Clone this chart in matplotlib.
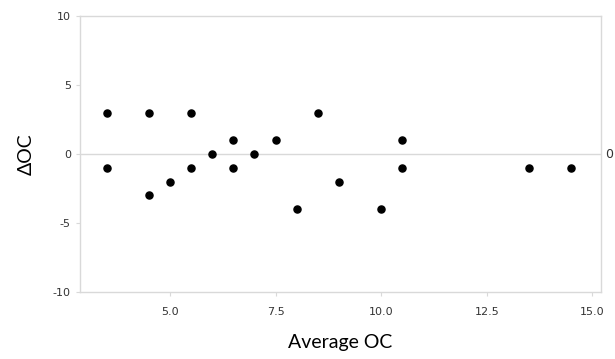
import matplotlib

matplotlib.use("Agg")
import matplotlib.pyplot as plt

# Bland-Altman style points: average OC vs difference
avg_oc = [3.5, 3.5, 4.5, 4.5, 5.0, 5.5, 5.5, 6.0, 6.5, 6.5,
          7.0, 7.5, 8.0, 8.5, 9.0, 10.0, 10.5, 10.5, 13.5, 14.5]
delta_oc = [3, -1, 3, -3, -2, 3, -1, 0, 1, -1,
            0, 1, -4, 3, -2, -4, 1, -1, -1, -1]
x_ticks = [5.0, 7.5, 10.0, 12.5, 15.0]
y_ticks = [-10, -5, 0, 5, 10]
ref_line = 0

GRID = "#d9d9d9"
plt.rcParams["axes.unicode_minus"] = False

fig = plt.figure(figsize=(6.15, 3.59), dpi=100)
ax = fig.add_axes([0.130, 0.187, 0.847, 0.768])

ax.axhline(ref_line, color=GRID, linewidth=1.0, zorder=1)
ax.scatter(avg_oc, delta_oc, s=26, color="black", zorder=3)

ax.set_xlim(2.87, 15.2)
ax.set_ylim(-10, 10)
ax.set_xticks(x_ticks)
ax.set_xticklabels([f"{t:.1f}" for t in x_ticks])
ax.set_yticks(y_ticks)

for side in ("left", "right", "top", "bottom"):
    ax.spines[side].set_color(GRID)
    ax.spines[side].set_linewidth(1.0)

ax.tick_params(axis="both", colors=GRID, labelcolor="#333333", labelsize=8,
               length=3, width=0.8)
ax.tick_params(axis="x", pad=8)

ax.text(1.008, (ref_line + 10) / 20, str(ref_line), transform=ax.transAxes,
        ha="left", va="center", fontsize=9, color="#333333")

ax.set_xlabel("Average OC", fontsize=14, family="Lato", labelpad=12)
ax.set_ylabel("ΔOC", fontsize=14, family="Lato", labelpad=13)

fig.savefig("out.png", dpi=100)
